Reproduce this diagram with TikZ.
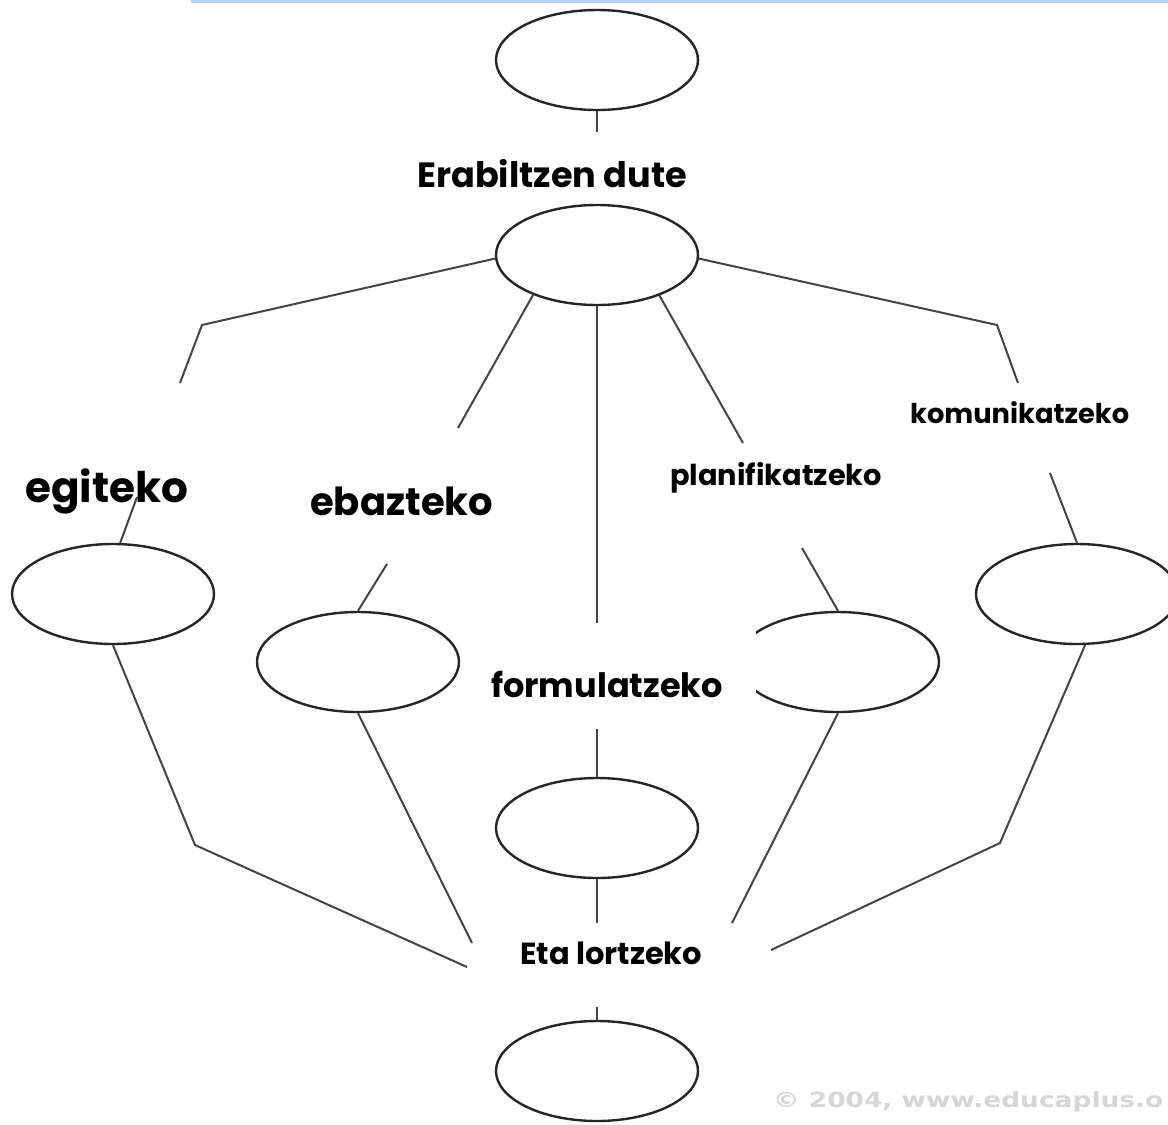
\documentclass[tikz,border=0pt]{standalone}
\usepackage{fontspec}
\usepackage{graphicx}
\usetikzlibrary{shapes.geometric}
\newfontfamily\labelfont{Poppins}
\newfontfamily\copyfont{DejaVu Sans}
\definecolor{linegray}{HTML}{444444}
\definecolor{ellgray}{HTML}{262626}
\definecolor{topblue}{HTML}{B4D2F5}
\definecolor{copygray}{HTML}{D6D6D6}
\begin{document}
\begin{tikzpicture}[x=1pt,y=-1pt,
  concept/.style={draw=ellgray, line width=2.4pt, ellipse, minimum width=202pt, minimum height=100pt, inner sep=0pt, fill=white},
  conn/.style={draw=linegray, line width=2pt},
  lbl/.style={inner sep=0pt, anchor=base west, font=\labelfont\bfseries}]
\useasboundingbox (0,0) rectangle (1168,1125);
\fill[white] (0,0) rectangle (1168,1125);
\draw[topblue, line width=3pt] (191,1.5) -- (1168,1.5);

% concepts
\node[concept] (top) at (597,60) {};
\node[concept] (hub) at (597,255) {};
\node[concept] (egi) at (113,594) {};
\node[concept] (eba) at (358,662) {};
\node[concept] (pla) at (838,662) {};
\node[concept] (kom) at (1077,594) {};
\node[concept] (mid) at (597,828) {};
\node[concept] (bot) at (597,1071) {};

% connector end points at the label gaps
\coordinate (erA) at (597,132);
\coordinate (egB) at (202,325);
\coordinate (egA) at (180,383);
\coordinate (egC) at (137,497);
\coordinate (ebA) at (458,428);
\coordinate (ebC) at (387,564);
\coordinate (foA) at (597,623);
\coordinate (foC) at (597,729);
\coordinate (plA) at (743,443);
\coordinate (plC) at (802,548);
\coordinate (koB) at (997,325);
\coordinate (koA) at (1018,383);
\coordinate (koC) at (1050,473);
\coordinate (lgB) at (195,845);
\coordinate (lgA) at (467,967);
\coordinate (lbA) at (472,943);
\coordinate (lmA) at (597,923);
\coordinate (lmC) at (597,1007);
\coordinate (lpA) at (732,923);
\coordinate (lkB) at (1000,843);
\coordinate (lkA) at (771,950);

% connectors
\draw[conn] (top) -- (erA);
\draw[conn] (hub.182) -- (egB) -- (egA);
\draw[conn] (egC) -- (egi.82);
\draw[conn] (hub.212) -- (ebA);
\draw[conn] (ebC) -- (eba.north);
\draw[conn] (hub.south) -- (foA);
\draw[conn] (foC) -- (mid.north);
\draw[conn] (hub.327) -- (plA);
\draw[conn] (plC) -- (pla.north);
\draw[conn] (hub.358) -- (koB) -- (koA);
\draw[conn] (koC) -- (kom.north);
\draw[conn] (egi.south) -- (lgB) -- (lgA);
\draw[conn] (eba.south) -- (lbA);
\draw[conn] (mid.south) -- (lmA);
\draw[conn] (lmC) -- (bot.north);
\draw[conn] (pla.south) -- (lpA);
\draw[conn] (kom.279) -- (lkB) -- (lkA);

% labels
\node[lbl] (erab) at (417,187) {\resizebox{270pt}{!}{Erabiltzen dute}};
\node[lbl] (egt) at (25,502) {\resizebox{163pt}{!}{egiteko}};
\node[lbl] (ebz) at (310,515) {\resizebox{183pt}{!}{ebazteko}};
\node[lbl] (plf) at (670,485) {\resizebox{212pt}{!}{planifikatzeko}};
\node[lbl] (kmn) at (910,423) {\resizebox{219pt}{!}{komunikatzeko}};
\node[lbl] (eta) at (520,964) {\resizebox{182pt}{!}{Eta lortzeko}};
\node[fill=white, inner sep=0pt, minimum width=286pt, minimum height=106pt, font=\labelfont\bfseries] (frm) at (613,676)
  {\raisebox{-21pt}[0pt][0pt]{\makebox[0pt][l]{\hspace*{-122pt}\resizebox{232pt}{!}{formulatzeko}}}};

% copyright
\node[anchor=base west, inner sep=0pt, text=copygray, font=\copyfont\bfseries] (copy) at (773,1107)
  {\resizebox{390pt}{16pt}{© 2004, www.educaplus.o}};
\end{tikzpicture}
\end{document}
